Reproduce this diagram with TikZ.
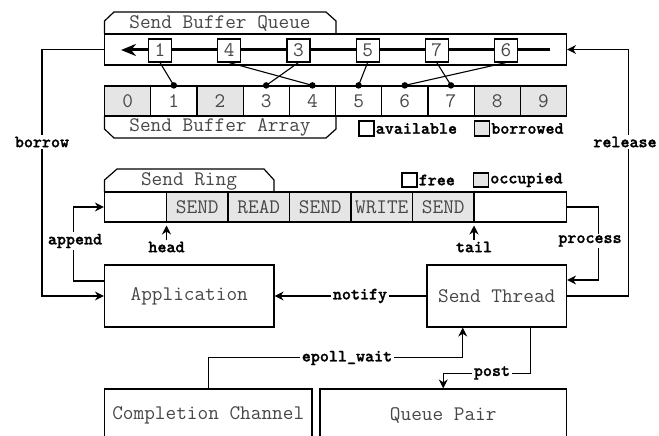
\documentclass[tikz,border=0pt]{standalone}
\usepackage{fontspec}
\usetikzlibrary{arrows.meta}

\newfontfamily\edgefam{lmmonolt10-bold.otf}[FakeBold=1.3]
\newcommand\boxfont{\ttfamily\fontsize{20.7}{24}\selectfont}
\newcommand\edgefont{\edgefam\fontsize{17.2}{20}\selectfont}

\tikzset{
  frame/.style={draw, line width=1.2pt},
  cell/.style={frame, inner sep=0pt, text=black!72, font=\boxfont,
    minimum height=30pt},
  used/.style={fill=black!10},
  bigbox/.style={frame, inner sep=0pt, text=black!72, font=\boxfont},
  tabtext/.style={inner sep=0pt, text=black!72, font=\boxfont},
  qitem/.style={frame, fill=white, inner sep=0pt, text=black!72, font=\boxfont,
    minimum width=23pt, minimum height=23pt},
  legbox/.style={frame, inner sep=0pt, minimum width=15pt, minimum height=15pt},
  lbl/.style={font=\edgefont, fill=white, inner sep=1.5pt},
  leg/.style={font=\edgefont, inner sep=1pt, anchor=west},
  conn/.style={line width=1.2pt, -{Stealth[length=9pt,width=9pt]}},
  link/.style={line width=1.1pt},
  dot/.style={circle, fill=black, inner sep=0pt, minimum size=6.5pt},
}

\begin{document}
\begin{tikzpicture}[x=1pt,y=-1pt]
\useasboundingbox (0,0) rectangle (659,436);
\clip (0,0) rectangle (659,436);

% ---------------- send buffer queue ----------------
\draw[frame] (104.5,34) -- (104.5,21) -- (114,12) -- (326,12) -- (336,21) -- (336,34);
\node[tabtext] (qtab) at (220,23.5) {Send Buffer Queue};
\node[frame, minimum width=462pt, minimum height=31pt, inner sep=0pt] (queue) at (335.5,49.5) {};
\coordinate (qhead) at (550,50);
\coordinate (qtail) at (121,50);
\draw[line width=3pt, -{Stealth[length=15pt,width=12pt]}] (qhead) -- (qtail);

\node[qitem] (q1) at (160,50.5) {1};
\node[qitem] (q4) at (229.2,50.5) {4};
\node[qitem] (q3) at (298.4,50.5) {3};
\node[qitem] (q5) at (367.6,50.5) {5};
\node[qitem] (q7) at (436.8,50.5) {7};
\node[qitem] (q6) at (506,50.5) {6};

% ---------------- send buffer array ----------------
\foreach \i in {0,...,9} {
  \pgfmathsetmacro\cx{104.5+46.2*\i+23.1}
  \ifnum\i=0 \def\cf{used}\else\ifnum\i=2 \def\cf{used}\else\ifnum\i>7 \def\cf{used}\else\def\cf{}\fi\fi\fi
  \node[cell, \cf, minimum width=46.2pt] (a\i) at (\cx,101) {\i};
}
\draw[frame] (104.5,116) -- (104.5,129) -- (114,138) -- (326,138) -- (336,129) -- (336,116);
\node[tabtext] (atab) at (220,127) {Send Buffer Array};

\foreach \q/\a in {q1/a1,q4/a4,q3/a3,q5/a5,q7/a7,q6/a6} {
  \draw[link] (\q.south) -- (\a.north);
  \node[dot] at (\a.north) {};
}

\node[legbox] (avbox) at (366.5,128.5) {};
\node[leg] (avtxt) at (avbox.east) {available};
\node[legbox, used] (bobox) at (482,128.5) {};
\node[leg] (botxt) at (bobox.east) {borrowed};

% ---------------- send ring ----------------
\draw[frame] (104.5,192) -- (104.5,180) -- (117,169) -- (264,169) -- (274,180) -- (274,192);
\node[tabtext] (rtab) at (189,181.5) {Send Ring};

\node[cell, minimum width=62pt] (r0) at (135.5,207) {};
\node[cell, used, minimum width=61.5pt] (r1) at (197.25,207) {SEND};
\node[cell, used, minimum width=61.5pt] (r2) at (258.75,207) {READ};
\node[cell, used, minimum width=61.5pt] (r3) at (320.25,207) {SEND};
\node[cell, used, minimum width=61.5pt] (r4) at (381.75,207) {WRITE};
\node[cell, used, minimum width=61.5pt] (r5) at (443.25,207) {SEND};
\node[cell, minimum width=92.5pt] (r6) at (520.25,207) {};

\node[legbox, minimum height=14pt] (frbox) at (409.5,180) {};
\node[leg] (frtxt) at (frbox.east) {free};
\node[legbox, used, minimum height=14pt] (ocbox) at (481,180) {};
\node[leg] (octxt) at (ocbox.east) {occupied};

\node[font=\edgefont, inner sep=1pt] (headl) at (166.5,247) {head};
\coordinate (headp) at (166.5,225.5);
\draw[conn] (headl.north) -- (headp);
\node[font=\edgefont, inner sep=1pt] (taill) at (474,247) {tail};
\coordinate (tailp) at (474,225.5);
\draw[conn] (taill.north) -- (tailp);

% ---------------- threads ----------------
\node[bigbox, minimum width=169.5pt, minimum height=62pt] (app) at (189.25,296) {Application};
\node[bigbox, minimum width=139.5pt, minimum height=62pt] (st) at (496.75,296) {Send Thread};
\node[bigbox, minimum width=207.5pt, minimum height=52pt] (cc) at (208.25,415) {Completion Channel};
\node[bigbox, minimum width=246.5pt, minimum height=52pt] (qp) at (443.25,415) {Queue Pair};

% ---------------- connectors ----------------
\draw[conn] (queue.west) -- ++(-62,0) |- (app.west);
\node[lbl] (borrowl) at (42,142) {borrow};

\draw[conn] (st.east) -- ++(61,0) |- (queue.east);
\node[lbl] (releasel) at (625,142) {release};

\draw[conn] ([yshift=15pt]app.west) -- ++(-30.5,0) |- (r0.west);
\node[lbl] (appendl) at (75,241) {append};

\draw[conn] (r6.east) -- ++(31,0) |- ([yshift=16pt]st.east);
\node[lbl] (processl) at (590,241) {process};

\draw[conn] (st.west) -- (app.east);
\node[lbl] (notifyl) at (360,296) {notify};

\draw[conn] (cc.north) -- ++(0,-31) -| ([xshift=-34pt]st.south);
\node[lbl] (epolll) at (347,358) {epoll\_wait};

\draw[conn] ([xshift=34pt]st.south) -- ++(0,46) -| (qp.north);
\node[lbl] (postl) at (492,373) {post};
\end{tikzpicture}
\end{document}
